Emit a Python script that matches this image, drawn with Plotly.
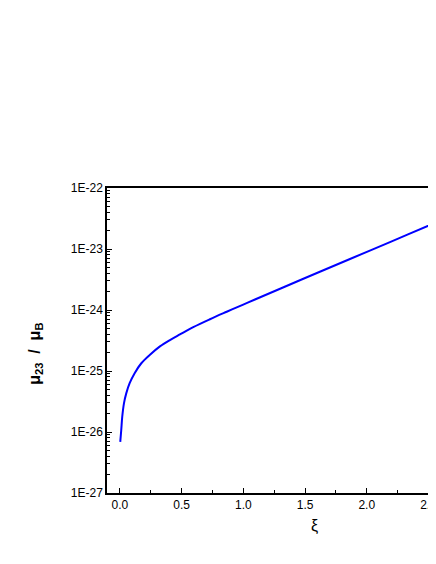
import plotly.graph_objects as go

# Data
xi = [0.0024, 0.0105, 0.0186, 0.0324, 0.051, 0.0786, 0.119, 0.173, 0.241, 0.324,
      0.405, 0.486, 0.594, 0.729, 0.865, 0.999, 1.094, 1.472, 1.864, 2.188, 2.561, 2.6]
mu = [6.9e-27, 1.08e-26, 1.78e-26, 2.95e-26, 4.3e-26, 6.3e-26, 9.2e-26, 1.34e-25,
      1.83e-25, 2.53e-25, 3.22e-25, 3.98e-25, 5.24e-25, 7.06e-25, 9.35e-25, 1.227e-24,
      1.486e-24, 3.16e-24, 6.86e-24, 1.30e-23, 2.72e-23, 2.93e-23]

y_major = [1e-27, 1e-26, 1e-25, 1e-24, 1e-23, 1e-22]
y_major_text = ["1E-27", "1E-26", "1E-25", "1E-24", "1E-23", "1E-22"]
y_minor = [k * d for d in y_major[:-1] for k in range(2, 10)]

x_major = [0.0, 0.5, 1.0, 1.5, 2.0, 2.5]
x_major_text = ["0.0", "0.5", "1.0", "1.5", "2.0", "2.5"]
x_minor = [0.25, 0.75, 1.25, 1.75, 2.25]

font = "Liberation Sans, Arial, sans-serif"

fig = go.Figure()
fig.add_trace(go.Scatter(x=xi, y=mu, mode="lines", line=dict(color="#0000FF", width=2),
                         line_shape="spline", line_smoothing=1.0,
                         showlegend=False, hoverinfo="skip"))

fig.update_layout(
    width=452, height=536,
    margin=dict(l=99, r=24, t=180, b=51, autoexpand=False),
    paper_bgcolor="white", plot_bgcolor="white",
    font=dict(family=font, size=12, color="black"),
    showlegend=False,
)

fig.update_xaxes(
    range=[-0.105, 2.561], automargin=False,
    showgrid=False, zeroline=False,
    showline=True, linecolor="black", linewidth=1.5, mirror=True,
    ticks="inside", ticklen=5, tickwidth=1, tickcolor="black",
    tickmode="array", tickvals=x_major, ticktext=x_major_text,
    ticklabeloverflow="allow",
    tickfont=dict(family=font, size=12, color="black"),
    minor=dict(ticks="inside", ticklen=3, tickwidth=1, tickcolor="black",
               tickmode="array", tickvals=x_minor, showgrid=False),
)

fig.update_yaxes(
    type="log", range=[-27, -22], automargin=False,
    showgrid=False, zeroline=False,
    showline=True, linecolor="black", linewidth=1.5, mirror=False,
    ticks="inside", ticklen=5, tickwidth=1, tickcolor="black",
    tickmode="array", tickvals=y_major, ticktext=y_major_text,
    tickfont=dict(family=font, size=12, color="black"),
    minor=dict(ticks="inside", ticklen=3, tickwidth=1, tickcolor="black",
               tickmode="array", tickvals=y_minor, showgrid=False),
)

fig.add_annotation(
    text="<b>μ<sub>23</sub>&nbsp;&nbsp;/&nbsp;&nbsp;μ<sub>B</sub></b>",
    xref="paper", yref="paper", x=-0.216, y=0.456,
    xanchor="center", yanchor="middle", textangle=-90, showarrow=False,
    font=dict(family=font, size=16, color="black"),
)
fig.add_annotation(
    text="ξ",
    xref="x", yref="paper", x=1.58, y=-0.108,
    xanchor="center", yanchor="middle", showarrow=False,
    font=dict(family=font, size=16, color="black"),
)

fig.write_html("out.html")
